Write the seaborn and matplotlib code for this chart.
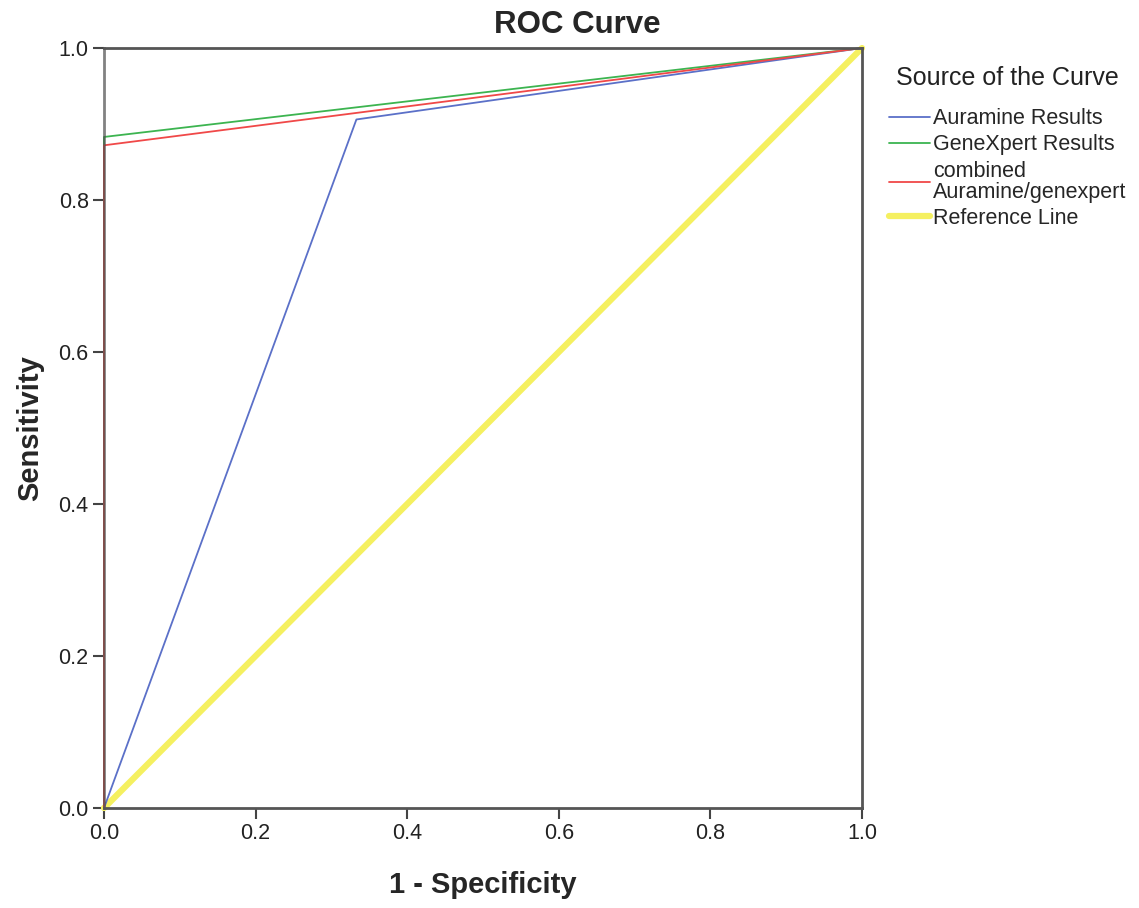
import matplotlib
matplotlib.use("Agg")
import matplotlib.pyplot as plt
import seaborn as sns
import pandas as pd

# ROC points
auramine_fpr = [0.0, 0.333, 1.0]
auramine_tpr = [0.0, 0.906, 1.0]
genexpert_fpr = [0.0, 0.0, 1.0]
genexpert_tpr = [0.0, 0.883, 1.0]
combined_fpr = [0.0, 0.0, 1.0]
combined_tpr = [0.0, 0.872, 1.0]
reference_fpr = [0.0, 1.0]
reference_tpr = [0.0, 1.0]

labels = ["Auramine Results", "GeneXpert Results",
          "combined\nAuramine/genexpert", "Reference Line"]
colors = ["#5b70c8", "#3cb450", "#f04848", "#f5f060"]
widths = [1.3, 1.3, 1.3, 4.5]

sns.set_style("white")
plt.rcParams['font.family'] = ['Liberation Sans', 'DejaVu Sans']

fig = plt.figure(figsize=(11.39, 9.08), dpi=100)
ax = fig.add_axes([0.0913, 0.1101, 0.6655, 0.837])

curves = [(auramine_fpr, auramine_tpr), (genexpert_fpr, genexpert_tpr),
          (combined_fpr, combined_tpr), (reference_fpr, reference_tpr)]
order = [3, 0, 1, 2]  # reference line drawn underneath
for i in order:
    fpr, tpr = curves[i]
    df = pd.DataFrame({"fpr": fpr, "tpr": tpr})
    sns.lineplot(data=df, x="fpr", y="tpr", sort=False, estimator=None,
                 color=colors[i], linewidth=widths[i], label=labels[i], ax=ax,
                 zorder=2, clip_on=False)

ax.set_xlim(0, 1)
ax.set_ylim(0, 1)
ticks = [0.0, 0.2, 0.4, 0.6, 0.8, 1.0]
ax.set_xticks(ticks)
ax.set_yticks(ticks)
ax.set_xticklabels([f"{t:.1f}" for t in ticks])
ax.set_yticklabels([f"{t:.1f}" for t in ticks])
ax.tick_params(direction="out", length=8, width=1.5, color="#444444",
               labelsize=15.5, labelcolor="#222222", bottom=True, left=True, pad=3)
for s in ax.spines.values():
    s.set_color("#555555")
    s.set_linewidth(2)
    s.set_zorder(2.5)
# left spine semi-transparent so the red/green vertical shows through brownish
ax.spines["left"].set_color((0.3, 0.3, 0.3, 0.7))

ax.set_title("ROC Curve", fontsize=22.5, fontweight="bold", pad=11, x=0.625)
ax.set_xlabel("1 - Specificity", fontsize=21, fontweight="bold", labelpad=19)
ax.set_ylabel("Sensitivity", fontsize=21, fontweight="bold", labelpad=10)

handles, lbls = ax.get_legend_handles_labels()
hmap = dict(zip(lbls, handles))
leg = ax.legend([hmap[l] for l in labels], labels, title="Source of the Curve",
                loc="upper left", bbox_to_anchor=(1.0356, 0.976), frameon=False,
                fontsize=15.5, title_fontsize=18, handlelength=1.9,
                handletextpad=0.15, labelspacing=0.24, borderaxespad=0, borderpad=0)
leg._legend_box.sep = 13
leg.get_title().set_color("#222222")
for t in leg.get_texts():
    t.set_linespacing(1.0)

fig.savefig("out.png", dpi=100)
